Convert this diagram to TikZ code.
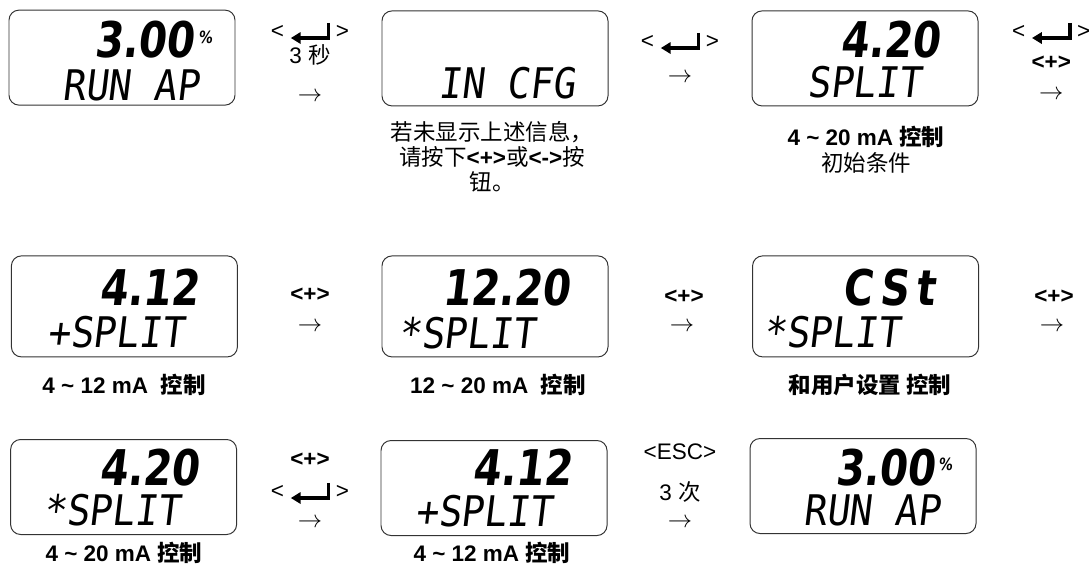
\documentclass[tikz,border=0pt]{standalone}
\usepackage{fontspec}
\setmainfont{Liberation Sans}
\newfontfamily\cjk{Noto Sans CJK SC}
\newfontfamily\lcdbig{DejaVu Sans}[FakeSlant=0.12, FakeStretch=0.82]
\newfontfamily\lcdsmall{DejaVu Sans Mono}[FakeSlant=0.12, FakeStretch=0.9]
\usetikzlibrary{arrows.meta}

\begin{document}
\begin{tikzpicture}[
    pantalla/.style={draw=black!80, line width=0.7pt, rounded corners=0.25cm, minimum width=5.65cm, minimum height=2.375cm},
    pantallaalta/.style={pantalla, minimum height=2.525cm},
    digitos/.style={anchor=base east, inner sep=0pt, font=\lcdbig\bfseries\fontsize{35}{35}\selectfont},
    porciento/.style={anchor=base west, inner sep=0pt, font=\lcdbig\bfseries\fontsize{12}{12}\selectfont},
    texto/.style={anchor=base west, inner sep=0pt, font=\lcdsmall\fontsize{30}{30}\selectfont},
    tecla/.style={inner sep=0pt, font=\fontsize{16}{18}\selectfont},
    teclab/.style={tecla, font=\fontsize{16}{18}\selectfont\bfseries},
    flecha/.style={inner sep=0pt, font=\fontsize{16}{18}\selectfont},
    nota/.style={inner sep=0pt, align=center, font=\fontsize{16}{17.8}\selectfont},
    notab/.style={nota, font=\fontsize{16}{17.8}\selectfont\bfseries},
    enter/.pic={\draw[line width=2.2pt, -{Triangle[length=7pt, width=8pt]}] (0.47,0.23) -- (0.47,-0.15) -- (-0.48,-0.15);}
  ]
    \useasboundingbox (0,0) rectangle (27.225,-14.275);

    % Pantallas
    \node[pantalla] (pa) at (3.05,-1.44) {};
    \node[pantalla] (pb) at (12.375,-1.46) {};
    \node[pantalla] (pc) at (21.625,-1.46) {};
    \node[pantallaalta] (pd) at (3.11,-7.66) {};
    \node[pantallaalta] (pe) at (12.375,-7.66) {};
    \node[pantallaalta] (pf) at (21.64,-7.66) {};
    \node[pantalla] (pg) at (3.09,-12.175) {};
    \node[pantalla] (ph) at (12.35,-12.2) {};
    \node[pantalla] (pi) at (21.575,-12.15) {};

    % Texto de las pantallas
    \node[digitos] (pa1) at (4.85,-1.425) {3.00};
    \node[porciento] (pa2) at (4.95,-1.075) {\%};
    \node[texto] (pa3) at (1.55,-2.5) {RUN AP};
    \node[texto] (pb3) at (10.95,-2.45) {IN CFG};
    \node[digitos] (pc1) at (23.5,-1.425) {4.20};
    \node[texto] (pc3) at (20.175,-2.425) {SPLIT};
    \node[digitos] (pd1) at (4.98,-7.625) {4.12};
    \node[texto] (pd3) at (1.175,-8.675) {+SPLIT};
    \node[digitos] (pe1) at (14.25,-7.625) {12.20};
    \node[texto] (pe3) at (9.95,-8.7) {*SPLIT};
    \node[digitos] (pf1) at (23.37,-7.625) {C\kern5pt S\kern5pt t};
    \node[texto] (pf3) at (19.075,-8.675) {*SPLIT};
    \node[digitos] (pg1) at (4.98,-12.125) {4.20};
    \node[texto] (pg3) at (1.075,-13.125) {*SPLIT};
    \node[digitos] (ph1) at (14.3,-12.125) {4.12};
    \node[texto] (ph3) at (10.375,-13.15) {+SPLIT};
    \node[digitos] (pi1) at (23.38,-12.125) {3.00};
    \node[porciento] (pi2) at (23.45,-11.75) {\%};
    \node[texto] (pi3) at (20.075,-13.125) {RUN AP};

    % Teclas
    \node[tecla] (t1) at (7.75,-0.8) {<\hspace{1.3cm}>};
    \pic at (t1) {enter};
    \node[tecla] (t2) at (7.75,-1.375) {3 {\cjk 秒}};
    \node[flecha] (f1) at (7.75,-2.425) {$\rightarrow$};
    \node[tecla] (t3) at (17.0,-1.05) {<\hspace{1.3cm}>};
    \pic at (t3) {enter};
    \node[flecha] (f2) at (17.0,-1.95) {$\rightarrow$};
    \node[tecla] (t4) at (26.28,-0.8) {<\hspace{1.3cm}>};
    \pic at (t4) {enter};
    \node[teclab] (t5) at (26.28,-1.575) {<+>};
    \node[flecha] (f3) at (26.28,-2.375) {$\rightarrow$};

    \node[teclab] (t6) at (7.75,-7.375) {<+>};
    \node[flecha] (f4) at (7.75,-8.175) {$\rightarrow$};
    \node[teclab] (t7) at (17.1,-7.425) {<+>};
    \node[flecha] (f5) at (17.05,-8.175) {$\rightarrow$};
    \node[teclab] (t8) at (26.35,-7.425) {<+>};
    \node[flecha] (f6) at (26.3,-8.175) {$\rightarrow$};

    \node[teclab] (t9) at (7.75,-11.5) {<+>};
    \node[tecla] (t10) at (7.75,-12.3) {<\hspace{1.3cm}>};
    \pic at (t10) {enter};
    \node[flecha] (f7) at (7.75,-13.075) {$\rightarrow$};
    \node[tecla] (t11) at (17.0,-11.3) {<ESC>};
    \node[tecla] (t12) at (17.0,-12.3) {3 {\cjk 次}};
    \node[flecha] (f8) at (17.0,-13.075) {$\rightarrow$};

    % Notas
    \node[nota] (nb) at (12.3,-3.925) {{\cjk 若未显示上述信息，}\\{\cjk 请按下}\textbf{<+>}{\cjk 或}\textbf{<->}{\cjk 按}\\{\cjk 钮。}};
    \node[notab] (nc1) at (21.65,-3.425) {4 \textasciitilde{} 20 mA {\cjk 控制}};
    \node[nota] (nc2) at (21.65,-4.075) {\cjk 初始条件};
    \node[notab] (nd) at (3.1,-9.625) {4 \textasciitilde{} 12 mA\ \ {\cjk 控制}};
    \node[notab] (ne) at (12.45,-9.625) {12 \textasciitilde{} 20 mA\ \ {\cjk 控制}};
    \node[notab] (nf) at (21.75,-9.625) {\cjk 和用户设置 控制};
    \node[notab] (ng) at (3.1,-13.825) {4 \textasciitilde{} 20 mA {\cjk 控制}};
    \node[notab] (nh) at (12.3,-13.825) {4 \textasciitilde{} 12 mA {\cjk 控制}};

\end{tikzpicture}
\end{document}
